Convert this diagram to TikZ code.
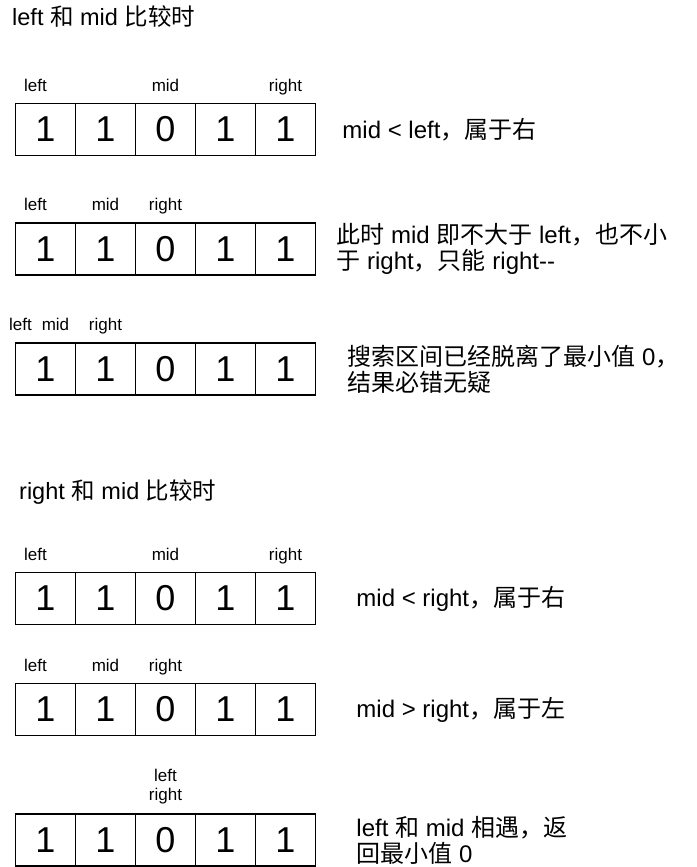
\documentclass[tikz,border=0pt]{standalone}
\usepackage{fontspec}
\setmainfont{Liberation Sans}
\newfontfamily\zhfont{Noto Sans CJK SC}
\newcommand{\zh}[1]{{\zhfont #1}}
\usetikzlibrary{positioning}
\tikzset{
  cell/.style={
    minimum width=60pt,
    minimum height=52pt,
    draw=black,
    line width=1.5pt,
    inner sep=0pt,
    font=\fontsize{36}{40}\selectfont
  },
  ptr/.style={
    inner sep=0pt,
    text depth=0pt,
    align=center,
    font=\fontsize{17}{19}\selectfont
  },
  note/.style={
    inner sep=0pt,
    align=left,
    font=\fontsize{24}{26}\selectfont
  }
}

\begin{document}
\begin{tikzpicture}[x=1pt,y=-1pt]
\useasboundingbox (0,0) rectangle (696,867);
\node[note, anchor=west, font=\fontsize{23.5}{26}\selectfont] (title1) at (12,17) {left \zh{和} mid \zh{比较时}};
\node[note, anchor=west, font=\fontsize{23.5}{26}\selectfont] (title2) at (19,492) {right \zh{和} mid \zh{比较时}};
\foreach [count = \r] \ypos in {129.5, 249, 369, 598.5, 709.5, 840}{
\foreach [count = \i] \v in {1, 1, 0, 1, 1}{
\node[cell] (c\r\i) at (60*\i-14.5, \ypos) {\v};
}
}
% left vs mid
\node[ptr, above=11.5pt, xshift=-10pt] at (c11.north) {left};
\node[ptr, above=11.5pt] at (c13.north) {mid};
\node[ptr, above=11.5pt] at (c15.north) {right};
\node[ptr, above=11.5pt, xshift=-10pt] at (c21.north) {left};
\node[ptr, above=11.5pt] at (c22.north) {mid};
\node[ptr, above=11.5pt] at (c23.north) {right};
\node[ptr, above=11.5pt, xshift=-25pt] at (c31.north) {left};
\node[ptr, above=11.5pt, xshift=10pt] at (c31.north) {mid};
\node[ptr, above=11.5pt] at (c32.north) {right};
\node[note, right=26pt of c15] (n1) {mid < left\zh{，属于右}};
\node[note, right=20pt of c25] (n2) {\zh{此时} mid \zh{即不大于} left\zh{，也不小}\\\zh{于} right\zh{，只能} right-{}-};
\node[note, right=31pt of c35] (n3) {\zh{搜索区间已经脱离了最小值} 0\zh{，}\\\zh{结果必错无疑}};
% right vs mid
\node[ptr, above=11.5pt, xshift=-10pt] at (c41.north) {left};
\node[ptr, above=11.5pt] at (c43.north) {mid};
\node[ptr, above=11.5pt] at (c45.north) {right};
\node[ptr, above=11.5pt, xshift=-10pt] at (c51.north) {left};
\node[ptr, above=11.5pt] at (c52.north) {mid};
\node[ptr, above=11.5pt] at (c53.north) {right};
\node[ptr, above=13pt] at (c63.north) {left\\right};
\node[note, right=40pt of c45] (n4) {mid < right\zh{，属于右}};
\node[note, right=40pt of c55] (n5) {mid > right\zh{，属于左}};
\node[note, right=40pt of c65] (n6) {left \zh{和} mid \zh{相遇，返}\\\zh{回最小值} 0};
\end{tikzpicture}
\end{document}
